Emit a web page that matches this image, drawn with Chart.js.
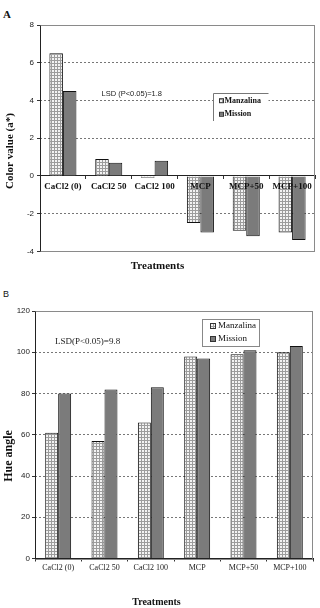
<!DOCTYPE html>
<html>
<head>
<meta charset="utf-8">
<title>Color value and hue angle</title>
<script src="https://cdn.jsdelivr.net/npm/chart.js@4.4.0/dist/chart.umd.min.js"></script>
<style>
body{margin:0;background:#fff;width:320px;height:608px;position:relative;overflow:hidden}
canvas{position:absolute;left:0}
#panelA{top:0}
#panelB{top:290px}
.tag{position:absolute;left:3px;color:#111}
</style>
</head>
<body>
<div class="tag" style="top:8px;font:bold 11px 'Liberation Serif'">A</div>
<div class="tag" style="top:289px;font:9px 'Liberation Sans'">B</div>
<canvas id="panelA" width="320" height="280"></canvas>
<canvas id="panelB" width="320" height="318"></canvas>
<script>
// data
var treatmentsA = ["CaCl2 (0)", "CaCl2 50", "CaCl2 100", "MCP", "MCP+50", "MCP+100"];
var treatmentsB = ["CaCl2 (0)", "CaCl2 50", "CaCl2 100", "MCP", "MCP+50", "MCP+100"];
var manzalinaA = [6.5, 0.9, -0.1, -2.5, -2.9, -3.0];
var missionA = [4.5, 0.7, 0.8, -3.0, -3.2, -3.4];
var manzalinaB = [61, 57, 66, 98, 99, 100];
var missionB = [80, 82, 83, 97, 101, 103];
var ticksA = [-4, -2, 0, 2, 4, 6, 8];
var ticksB = [0, 20, 40, 60, 80, 100, 120];

var serif = '"Liberation Serif", "Times New Roman", serif';
var sans = '"Liberation Sans", Arial, sans-serif';

// small square grid fill used for Manzalina
function hatch(ctx) {
	var c = document.createElement('canvas');
	c.width = 3; c.height = 3;
	var g = c.getContext('2d');
	g.fillStyle = '#f3f3f3'; g.fillRect(0, 0, 3, 3);
	g.fillStyle = '#9c9c9c'; g.fillRect(0, 0, 3, 1); g.fillRect(0, 0, 1, 3);
	return ctx.createPattern(c, 'repeat');
}

// grey box round the plot, dark left axis line
function frame(chart) {
	var a = chart.chartArea, c = chart.ctx;
	var l = Math.round(a.left) + 0.5, t = Math.round(a.top) + 0.5;
	var r = Math.round(a.right) - 0.5, b = Math.round(a.bottom) + 0.5;
	c.save();
	c.setLineDash([]);
	c.lineWidth = 1;
	c.strokeStyle = '#8a8a8a';
	c.strokeRect(l, t, r - l, b - t);
	c.strokeStyle = '#222';
	c.beginPath(); c.moveTo(l, t); c.lineTo(l, b); c.stroke();
	c.restore();
}

function yTitle(c, text, x, y, size) {
	c.save();
	c.translate(x, y);
	c.rotate(-Math.PI / 2);
	c.font = 'bold ' + size + 'px ' + serif;
	c.fillStyle = '#111';
	c.textAlign = 'center';
	c.textBaseline = 'middle';
	c.fillText(text, 0, 0);
	c.restore();
}

var extrasA = {
	id: 'extrasA',
	beforeDatasetsDraw: function(chart) { frame(chart); },
	afterDraw: function(chart) {
		var c = chart.ctx, ds = chart.data.datasets;
		yTitle(c, 'Color value (a*)', 10.5, 151, 11);
		c.save();
		c.fillStyle = '#222';
		c.font = '7.5px ' + sans;
		c.textBaseline = 'middle';
		c.fillText('LSD (P<0.05)=1.8', 101.5, 93.5);
		// legend box, only top and left edges show in the original
		c.fillStyle = '#fff';
		c.fillRect(213.5, 93.5, 55, 27);
		c.strokeStyle = '#777';
		c.beginPath();
		c.moveTo(268.5, 93.5); c.lineTo(213.5, 93.5); c.lineTo(213.5, 121);
		c.stroke();
		c.font = 'bold 8px ' + serif;
		[100.7, 114.3].forEach(function(y, i) {
			c.fillStyle = ds[i].backgroundColor;
			c.fillRect(220, y - 1.5, 3, 3);
			c.strokeStyle = '#333';
			c.strokeRect(219.5, y - 2, 4, 4);
			c.fillStyle = '#111';
			c.fillText(ds[i].label, 224.5, y);
		});
		c.restore();
	}
};

var extrasB = {
	id: 'extrasB',
	beforeDatasetsDraw: function(chart) { frame(chart); },
	afterDraw: function(chart) {
		var c = chart.ctx, ds = chart.data.datasets;
		yTitle(c, 'Hue angle', 8.5, 166, 12);
		c.save();
		c.fillStyle = '#222';
		c.font = '9px ' + serif;
		c.textBaseline = 'middle';
		c.fillText('LSD(P<0.05)=9.8', 55, 51.7);
		c.fillStyle = '#fff';
		c.fillRect(202.5, 29.5, 57, 27);
		c.strokeStyle = '#888';
		c.strokeRect(202.5, 29.5, 57, 27);
		[36, 49].forEach(function(y, i) {
			c.fillStyle = ds[i].backgroundColor;
			c.fillRect(211, y - 2.5, 5, 5);
			c.strokeStyle = '#333';
			c.strokeRect(210.5, y - 2.5, 5, 5);
			c.fillStyle = '#111';
			c.fillText(ds[i].label, 218, y);
		});
		c.restore();
	}
};

function dashedGrid(hidden) {
	return {
		color: function(ctx) { return hidden.indexOf(ctx.tick.value) >= 0 ? 'rgba(0,0,0,0)' : '#777'; },
		tickColor: '#333',
		tickBorderDash: [],
		tickLength: 3
	};
}

var ctxA = document.getElementById('panelA').getContext('2d');
new Chart(ctxA, {
	type: 'bar',
	data: {
		labels: treatmentsA,
		datasets: [
			{ label: 'Manzalina', data: manzalinaA, backgroundColor: hatch(ctxA), borderColor: '#111', borderWidth: 1 },
			{ label: 'Mission', data: missionA, backgroundColor: '#7b7b7b', borderColor: '#111', borderWidth: 1 }
		]
	},
	options: {
		responsive: false,
		animation: false,
		devicePixelRatio: 1,
		categoryPercentage: 0.59,
		barPercentage: 1,
		layout: { padding: { top: 25, right: 5, left: 0, bottom: 0 } },
		plugins: {
			legend: { display: false },
			tooltip: { enabled: false },
			title: {
				display: true, position: 'bottom', text: 'Treatments', color: '#111',
				font: { family: serif, size: 11, weight: 'bold', lineHeight: 1.2 },
				padding: { top: 8, bottom: 7.4 }
			}
		},
		scales: {
			x: {
				position: { y: 0 },
				grid: { drawOnChartArea: false, tickLength: 3, color: '#333' },
				border: { color: '#222' },
				ticks: { z: 1, padding: 2, color: '#111', font: { family: serif, size: 9, weight: 'bold' }, maxRotation: 0, autoSkip: false }
			},
			y: {
				min: -4, max: 8,
				afterBuildTicks: function(s) { s.ticks = ticksA.map(function(v) { return { value: v }; }); },
				afterFit: function(s) { s.width = 40; },
				grid: dashedGrid([8, 0, -4]),
				border: { display: false, dash: [2, 2] },
				ticks: { padding: 3, color: '#222', font: { family: sans, size: 8 } }
			}
		}
	},
	plugins: [extrasA]
});

var ctxB = document.getElementById('panelB').getContext('2d');
new Chart(ctxB, {
	type: 'bar',
	data: {
		labels: treatmentsB,
		datasets: [
			{ label: 'Manzalina', data: manzalinaB, backgroundColor: hatch(ctxB), borderColor: '#111', borderWidth: 1 },
			{ label: 'Mission', data: missionB, backgroundColor: '#7b7b7b', borderColor: '#111', borderWidth: 1 }
		]
	},
	options: {
		responsive: false,
		animation: false,
		devicePixelRatio: 1,
		categoryPercentage: 0.56,
		barPercentage: 1,
		layout: { padding: { top: 21, right: 7, left: 0, bottom: 0 } },
		plugins: {
			legend: { display: false },
			tooltip: { enabled: false },
			title: {
				display: true, position: 'bottom', text: 'Treatments', color: '#111',
				font: { family: serif, size: 10, weight: 'bold', lineHeight: 1.2 },
				padding: { top: 17.5, bottom: 0 }
			}
		},
		scales: {
			x: {
				afterFit: function(s) { s.height = 20; },
				grid: { drawOnChartArea: false, tickLength: 3, color: '#333' },
				border: { color: '#222' },
				ticks: { padding: 2, color: '#222', font: { family: serif, size: 8 }, maxRotation: 0, autoSkip: false }
			},
			y: {
				min: 0, max: 120,
				afterBuildTicks: function(s) { s.ticks = ticksB.map(function(v) { return { value: v }; }); },
				afterFit: function(s) { s.width = 35; },
				grid: dashedGrid([120, 0]),
				border: { display: false, dash: [2, 2] },
				ticks: { padding: 2, color: '#222', font: { family: sans, size: 8 } }
			}
		}
	},
	plugins: [extrasB]
});
</script>
</body>
</html>
